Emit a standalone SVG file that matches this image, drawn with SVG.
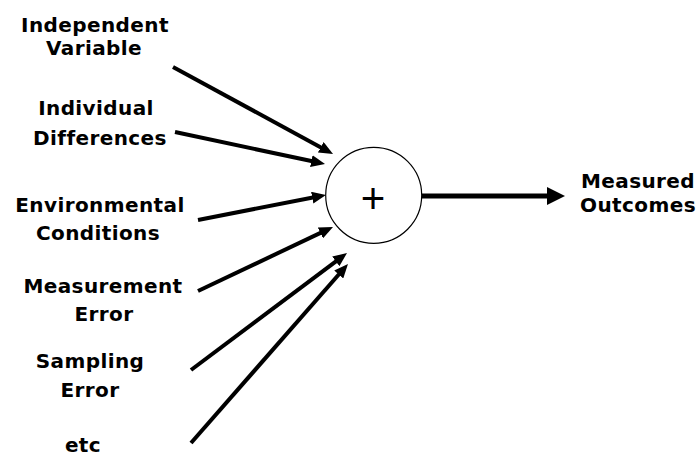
<svg xmlns="http://www.w3.org/2000/svg" width="699" height="456" viewBox="0 0 699 456">
<style>
.lbl{font-family:"DejaVu Sans","Verdana",sans-serif;font-weight:bold;font-size:20px;letter-spacing:0.4px;fill:#000;text-anchor:middle}
.in{stroke:#000;stroke-width:4;fill:none;marker-end:url(#ah)}
.out{stroke:#000;stroke-width:5;fill:none;marker-end:url(#ahb)}
.plus{font-family:"Liberation Sans",Arial,sans-serif;font-size:42px;fill:#000;text-anchor:middle}
</style>
<defs>
<marker id="ah" markerUnits="userSpaceOnUse" markerWidth="14" markerHeight="12" refX="6" refY="6" orient="auto" viewBox="0 0 14 12">
<path d="M0,0 L14,6 L0,12 z" fill="#000"/>
</marker>
<marker id="ahb" markerUnits="userSpaceOnUse" markerWidth="18" markerHeight="18" refX="8" refY="9" orient="auto" viewBox="0 0 18 18">
<path d="M0,0 L18,9 L0,18 z" fill="#000"/>
</marker>
</defs>
<rect width="699" height="456" fill="#fff"/>
<g id="connectors">
<line class="in" x1="173" y1="67" x2="326.0" y2="150.2"/>
<line class="in" x1="175" y1="132" x2="317.2" y2="162.3"/>
<line class="in" x1="198" y1="220" x2="318.1" y2="196.5"/>
<line class="in" x1="198" y1="291" x2="325.8" y2="230.4"/>
<line class="in" x1="191" y1="370" x2="340.6" y2="257.8"/>
<line class="in" x1="191" y1="443" x2="342.7" y2="270.0"/>
<line class="out" x1="422" y1="196" x2="555" y2="196"/>
</g>
<g id="sum">
<circle cx="373.7" cy="195.3" r="48" fill="#fff" stroke="#000" stroke-width="1.2"/>
<text class="plus" x="373" y="213">+</text>
</g>
<g id="independent-variable">
<text class="lbl" x="95" y="32">Independent</text>
<text class="lbl" x="94" y="55">Variable</text>
</g>
<g id="individual-differences">
<text class="lbl" x="96" y="115">Individual</text>
<text class="lbl" x="100" y="145">Differences</text>
</g>
<g id="environmental-conditions">
<text class="lbl" x="100" y="212">Environmental</text>
<text class="lbl" x="98" y="240">Conditions</text>
</g>
<g id="measurement-error">
<text class="lbl" x="103" y="293">Measurement</text>
<text class="lbl" x="104" y="321">Error</text>
</g>
<g id="sampling-error">
<text class="lbl" x="90" y="368">Sampling</text>
<text class="lbl" x="90" y="397">Error</text>
</g>
<g id="etc">
<text class="lbl" x="83" y="452">etc</text>
</g>
<g id="measured-outcomes">
<text class="lbl" x="638" y="188">Measured</text>
<text class="lbl" x="638" y="212">Outcomes</text>
</g>
</svg>
